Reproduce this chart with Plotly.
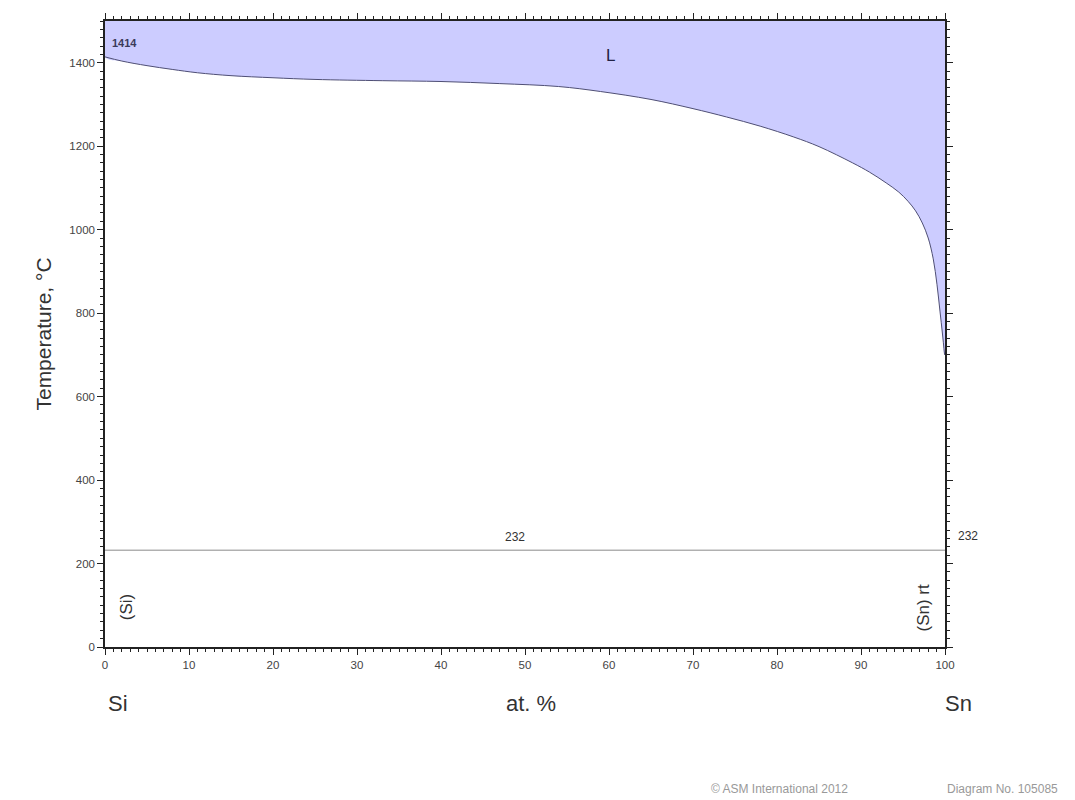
import plotly.graph_objects as go

# Liquidus of Si-Sn (at.% Sn vs temperature, °C)
liquidus_x = [0, 2, 5, 8, 11, 15, 20, 25, 33, 40, 47, 54, 59, 65, 70, 74, 78, 82, 85, 89, 91, 93, 94.5, 95.6, 96.5, 97.3, 98, 98.6, 99.05, 99.4, 99.7, 99.95]
liquidus_T = [1414, 1404, 1393, 1384, 1376, 1369, 1364, 1360, 1357, 1355, 1350, 1343, 1331, 1312, 1290, 1270, 1248, 1222, 1199, 1160, 1138, 1112, 1090, 1068, 1045, 1016, 980, 930, 868, 805, 750, 700]

eutectic_T = 232
T_max = 1500
x_ticks = [0, 10, 20, 30, 40, 50, 60, 70, 80, 90, 100]
y_ticks = [0, 200, 400, 600, 800, 1000, 1200, 1400]

fig = go.Figure()

# Liquid region fill (between liquidus and top of the diagram)
fig.add_trace(go.Scatter(
    x=[liquidus_x[0]] + liquidus_x + [100, 100, liquidus_x[0]],
    y=[T_max] + liquidus_T + [liquidus_T[-1], T_max, T_max],
    fill="toself", fillcolor="#CCCCFF", mode="lines",
    line=dict(width=0, shape="spline", smoothing=1.0, color="rgba(0,0,0,0)"),
    hoverinfo="skip", showlegend=False))

# Liquidus line
fig.add_trace(go.Scatter(
    x=liquidus_x, y=liquidus_T, mode="lines",
    line=dict(color="#4f4f75", width=1, shape="spline", smoothing=1.0), showlegend=False))

# Eutectic / Sn melting line at 232
fig.add_trace(go.Scatter(
    x=[0, 100], y=[eutectic_T, eutectic_T], mode="lines",
    line=dict(color="#8a8a8a", width=1), showlegend=False))

font_family = "Liberation Sans, Arial, sans-serif"
axis_common = dict(
    showline=True, linecolor="#222222", linewidth=1.5, mirror="allticks",
    ticks="outside", ticklen=6, tickwidth=1.2, tickcolor="#222222",
    showgrid=False, zeroline=False, automargin=False,
    tickfont=dict(family=font_family, size=11.5, color="#444444"),
)

fig.update_xaxes(range=[0, 100], tickvals=x_ticks,
                 minor=dict(dtick=1, ticklen=3, tickwidth=1, tickcolor="#222222", ticks="outside", showgrid=False),
                 **axis_common)
fig.update_yaxes(range=[0, T_max], tickvals=y_ticks,
                 minor=dict(dtick=20, ticklen=3, tickwidth=1, tickcolor="#222222", ticks="outside", showgrid=False),
                 title=dict(text="Temperature, °C", font=dict(family=font_family, size=21, color="#333333"), standoff=12),
                 **axis_common)

plot_w = 1075 - 105 - 130
plot_h = 800 - 21 - 153
def px_x(px):
    return (px - 105) / plot_w
def px_y(py):
    return (800 - 153 - py) / plot_h

ann = []
def add(text, x, y, size=12, color="#333333", angle=0, xanchor="center"):
    ann.append(dict(text=text, x=x, y=y, xref="x", yref="y", showarrow=False,
                    font=dict(family=font_family, size=size, color=color),
                    textangle=angle, xanchor=xanchor, yanchor="middle"))
def addp(text, px, py, size, color="#333333", xanchor="center"):
    ann.append(dict(text=text, x=px_x(px), y=px_y(py), xref="paper", yref="paper",
                    showarrow=False, xanchor=xanchor, yanchor="middle",
                    font=dict(family=font_family, size=size, color=color)))

add("<b>1414</b>", 0.6, 1447, size=11, color="#3a3a5a", xanchor="left")
add("L", 60.2, 1418, size=17, color="#222244")
add("232", 48.8, 263, size=12)
addp("232", 968, 536, 12)
add("(Si)", 2.6, 95, size=17, angle=-90)
add("(Sn) rt", 97.4, 95, size=17, angle=-90)
addp("Si", 118, 703, 22)
addp("at. %", 531, 703, 22)
addp("Sn", 958, 703, 22)
addp("© ASM International 2012", 779, 789, 12, color="#999999")
addp("Diagram No. 105085", 1002, 789, 12, color="#999999")

fig.update_layout(
    annotations=ann,
    width=1075, height=800,
    margin=dict(l=105, r=130, t=21, b=153),
    paper_bgcolor="white", plot_bgcolor="white",
    showlegend=False,
)

fig.write_html("out.html", config={"displayModeBar": False},
               post_script="document.body.style.margin='0';document.body.style.overflow='hidden';")
